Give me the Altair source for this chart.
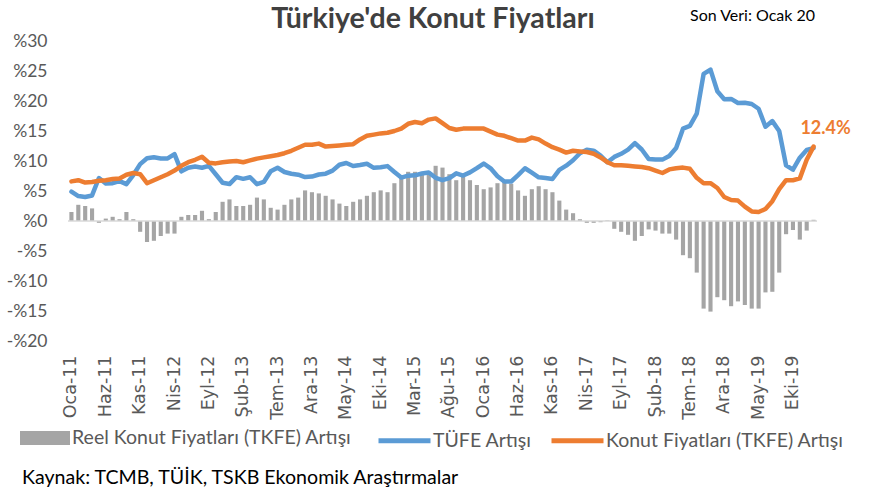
import altair as alt
import pandas as pd

# ---------------- data ----------------
month_names = ["Oca", "Şub", "Mar", "Nis", "May", "Haz", "Tem", "Ağu", "Eyl", "Eki", "Kas", "Ara"]
years = ["11", "12", "13", "14", "15", "16", "17", "18", "19", "20"]
periods = [f"{m}-{y}" for y in years for m in month_names][:109]   # Oca-11 ... Oca-20

# TÜFE Artışı (%)
tufe = [4.90, 4.16, 3.99, 4.26, 7.17, 6.24, 6.31, 6.65, 6.15, 7.66, 9.48, 10.45,
        10.61, 10.43, 10.43, 11.14, 8.28, 8.87, 9.07, 8.88, 9.19, 7.80, 6.37, 6.16,
        7.31, 7.03, 7.29, 6.13, 6.51, 8.30, 8.88, 8.17, 7.88, 7.71, 7.32, 7.40,
        7.75, 7.89, 8.39, 9.38, 9.66, 9.16, 9.32, 9.54, 8.86, 8.96, 9.15, 8.17,
        7.24, 7.55, 7.61, 7.91, 8.09, 7.20, 6.81, 7.14, 7.95, 7.58, 8.10, 8.81,
        9.58, 8.78, 7.46, 6.57, 6.58, 7.64, 8.79, 8.05, 7.28, 7.16, 7.00, 8.53,
        9.22, 10.13, 11.29, 11.87, 11.72, 10.90, 9.79, 10.68, 11.20, 11.90, 12.98, 11.92,
        10.35, 10.26, 10.23, 10.85, 12.15, 15.39, 15.85, 17.90, 24.52, 25.24, 21.62, 20.30,
        20.35, 19.67, 19.71, 19.50, 18.71, 15.72, 16.65, 15.01, 9.26, 8.55, 10.56, 11.84,
        12.15]

# Konut Fiyatları (TKFE) Artışı (%)
konut = [6.6, 6.8, 6.4, 6.5, 6.7, 6.8, 7.0, 7.1, 7.7, 8.0, 7.8, 6.3,
         6.8, 7.3, 7.8, 8.4, 9.2, 9.8, 10.2, 10.7, 9.7, 9.6, 9.8, 9.9,
         10.0, 9.8, 10.1, 10.4, 10.6, 10.8, 11.0, 11.3, 11.7, 12.2, 12.7, 12.7,
         12.9, 12.4, 12.5, 12.6, 12.7, 12.8, 13.6, 14.2, 14.4, 14.6, 14.7, 15.0,
         15.4, 16.2, 16.5, 16.3, 16.9, 17.1, 16.3, 15.5, 15.2, 15.4, 15.4, 15.4,
         15.4, 14.9, 14.4, 14.2, 13.8, 13.4, 13.4, 13.9, 13.6, 12.9, 12.3, 11.9,
         11.4, 11.7, 11.6, 11.5, 11.2, 10.6, 9.8, 9.3, 9.3, 9.2, 9.1, 9.0,
         8.8, 8.4, 8.0, 8.6, 8.8, 8.9, 8.7, 7.2, 6.3, 6.3, 5.5, 4.0,
         3.5, 3.4, 2.4, 1.6, 1.5, 2.0, 3.3, 5.3, 6.8, 6.8, 7.1, 10.2,
         12.4]

# Reel Konut Fiyatları (TKFE) Artışı (%)
reel = [1.5, 2.7, 2.5, 2.1, -0.3, 0.4, 0.7, 0.3, 1.5, 0.3, -1.8, -3.5,
        -3.3, -2.5, -2.1, -2.1, 0.7, 1.0, 1.0, 1.7, 0.3, 1.5, 3.2, 3.6,
        2.5, 2.5, 2.7, 3.9, 3.6, 2.2, 1.9, 2.7, 3.6, 3.9, 5.1, 4.8,
        4.6, 4.2, 3.6, 2.9, 2.5, 3.2, 3.6, 4.2, 4.8, 5.1, 4.8, 6.3,
        7.4, 8.2, 8.2, 7.9, 8.2, 9.2, 8.9, 7.8, 6.8, 7.4, 6.8, 6.0,
        5.3, 5.6, 6.3, 6.6, 6.2, 5.1, 4.2, 5.3, 5.8, 5.3, 4.8, 3.4,
        1.9, 1.3, 0.3, -0.3, -0.3, -0.2, 0.1, -1.3, -1.8, -2.3, -3.3, -2.5,
        -1.4, -1.6, -2.1, -2.1, -3.1, -5.7, -6.2, -8.6, -14.6, -15.1, -12.7, -13.2,
        -14.2, -13.4, -14.0, -14.6, -14.6, -11.9, -11.8, -8.6, -2.2, -1.5, -3.1, -1.6,
        0.2]

reel_name = "Reel Konut Fiyatları (TKFE) Artışı"
tufe_name = "TÜFE Artışı"
konut_name = "Konut Fiyatları (TKFE) Artışı"
tick_labels = periods[::5]
y_ticks = [-20, -15, -10, -5, 0, 5, 10, 15, 20, 25, 30]

BLUE = "#5B9BD5"
ORANGE = "#ED7D31"
GRAY = "#A5A5A5"
TXT = "#595959"

bars_df = pd.DataFrame({"period": periods, "value": reel, "series": reel_name})
lines_df = pd.concat([
    pd.DataFrame({"period": periods, "value": tufe, "series": tufe_name}),
    pd.DataFrame({"period": periods, "value": konut, "series": konut_name}),
], ignore_index=True)
last_df = pd.DataFrame({"period": [periods[-1]], "value": [konut[-1]],
                        "label": [f"{konut[-1]:.1f}%"]})

W, H = 749, 300
PL, PT = 68, 41

x_scale = alt.Scale(paddingInner=0.4, paddingOuter=0.2)
y_scale = alt.Scale(domain=[-20, 30], nice=False, zero=False)

x_axis = alt.Axis(values=tick_labels, labelAngle=-90, domain=False, ticks=False,
                  labelPadding=14, labelFont="DejaVu Sans", labelFontSize=17.5,
                  labelColor=TXT, labelOverlap=False, labelBound=False,
                  title=None, grid=False)
y_axis = alt.Axis(values=y_ticks,
                  labelExpr="datum.value < 0 ? '-%' + abs(datum.value) : '%' + datum.value",
                  domain=False, ticks=False, grid=False, labelPadding=21,
                  labelOverlap=False, labelBound=False,
                  labelFont="Lato", labelFontSize=17.5, labelColor=TXT, title=None)
x_enc = alt.X("period:N", sort=periods, scale=x_scale, axis=x_axis)
y_enc = alt.Y("value:Q", scale=y_scale, axis=y_axis)

LEG_FS = 19.5

bars = alt.Chart(bars_df).mark_bar().encode(
    x=x_enc, y=y_enc,
    fill=alt.Fill("series:N", scale=alt.Scale(domain=[reel_name], range=[GRAY]),
                  legend=alt.Legend(orient="none", legendX=20 - PL, legendY=372, title=None,
                                    symbolType="M-1,-0.28H1V0.28H-1Z", symbolSize=2500,
                                    symbolStrokeWidth=0, labelOffset=2, padding=0, labelLimit=0,
                                    labelFont="Lato", labelFontSize=LEG_FS, labelColor=TXT)),
)

zero = alt.Chart(pd.DataFrame({"value": [0]})).mark_rule(color="#D9D9D9", strokeWidth=1.5).encode(
    y=y_enc)

stroke_enc = alt.Stroke("series:N",
                        scale=alt.Scale(domain=[tufe_name, konut_name], range=[BLUE, ORANGE]),
                        legend=alt.Legend(orient="none", legendX=376 - PL, legendY=371, title=None,
                                          direction="horizontal", symbolType="stroke",
                                          symbolSize=2704, symbolStrokeWidth=5, labelOffset=0,
                                          columnPadding=9, padding=0, labelLimit=0,
                                          labelFont="Lato", labelFontSize=LEG_FS, labelColor=TXT))

blue_line = alt.Chart(lines_df).transform_filter(alt.datum.series == tufe_name).mark_line(
    strokeWidth=4.5, strokeJoin="round", strokeCap="round").encode(x=x_enc, y=y_enc, stroke=stroke_enc)
orange_line = alt.Chart(lines_df).transform_filter(alt.datum.series == konut_name).mark_line(
    strokeWidth=4.5, strokeJoin="round", strokeCap="round").encode(x=x_enc, y=y_enc, stroke=stroke_enc)

end_label = alt.Chart(last_df).mark_text(font="Lato", fontSize=18, fontWeight="bold",
                                         color=ORANGE, dx=12, dy=-18).encode(
    x=x_enc, y=y_enc, text="label:N")

title_t = alt.Chart(pd.DataFrame({"t": ["Türkiye'de Konut Fiyatları"]})).mark_text(
    font="Lato", fontSize=28.5, fontWeight="bold", color="#404040", align="center",
    baseline="alphabetic").encode(text="t:N", x=alt.value(433 - PL), y=alt.value(28 - PT))
son_t = alt.Chart(pd.DataFrame({"t": ["Son Veri: Ocak 20"]})).mark_text(
    font="Lato", fontSize=16, color="#000000", align="left", baseline="middle").encode(
    text="t:N", x=alt.value(690 - PL), y=alt.value(16 - PT))
src_t = alt.Chart(pd.DataFrame({"t": ["Kaynak: TCMB, TÜİK, TSKB Ekonomik Araştırmalar"]})).mark_text(
    font="Lato", fontSize=19.6, color="#000000", align="left", baseline="middle").encode(
    text="t:N", x=alt.value(22 - PL), y=alt.value(478 - PT))

chart = alt.layer(bars, zero, blue_line, orange_line, end_label, title_t, son_t, src_t).properties(
    width=W, height=H,
    padding={"left": PL, "top": PT, "right": 877 - PL - W, "bottom": 490 - PT - H},
    autosize=alt.AutoSizeParams(type="none"),
).configure(font="Lato").configure_view(stroke=None)

chart.save("out.html", embed_options={"renderer": "svg", "actions": False})
